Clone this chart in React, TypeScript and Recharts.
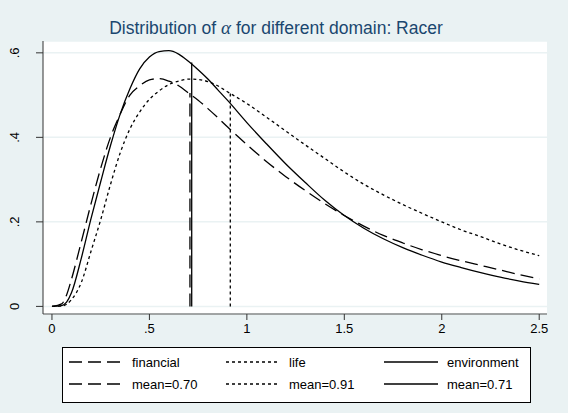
import React from 'react';
import { LineChart, Line, XAxis, YAxis, CartesianGrid, ReferenceLine } from 'recharts';

// alpha grid and density readings
const alphas = [
  0, 0.05, 0.075, 0.1, 0.15, 0.2, 0.25, 0.3, 0.35, 0.4, 0.45, 0.5, 0.55, 0.6, 0.65, 0.7, 0.75, 0.8, 0.85, 0.9,
  1.0, 1.1, 1.2, 1.3, 1.4, 1.5, 1.6, 1.7, 1.8, 1.9, 2.0, 2.1, 2.2, 2.3, 2.4, 2.5,
];
const financial = [
  0, 0.006, 0.027, 0.064, 0.152, 0.242, 0.327, 0.4, 0.455, 0.5, 0.522, 0.536, 0.539, 0.533, 0.522, 0.505, 0.488, 0.468, 0.447, 0.425,
  0.383, 0.343, 0.307, 0.274, 0.243, 0.215, 0.19, 0.168, 0.15, 0.134, 0.12, 0.108, 0.097, 0.086, 0.075, 0.065,
];
const life = [
  0, 0.001, 0.005, 0.016, 0.056, 0.13, 0.205, 0.288, 0.363, 0.42, 0.46, 0.49, 0.51, 0.525, 0.533, 0.538, 0.537, 0.532, 0.522, 0.508,
  0.48, 0.448, 0.415, 0.382, 0.35, 0.318, 0.289, 0.264, 0.241, 0.22, 0.2, 0.181, 0.165, 0.148, 0.133, 0.12,
];
const environment = [
  0, 0.002, 0.01, 0.032, 0.113, 0.207, 0.295, 0.38, 0.455, 0.515, 0.562, 0.59, 0.603, 0.605, 0.597, 0.58, 0.56, 0.538, 0.513, 0.488,
  0.435, 0.385, 0.337, 0.293, 0.251, 0.215, 0.185, 0.16, 0.139, 0.121, 0.105, 0.092, 0.08, 0.069, 0.06, 0.052,
];

// mean markers: drawn position and height of each vertical line
const meanNames = ['financial', 'life', 'environment'];
const meanPositions = [0.708, 0.915, 0.717];
const meanHeights = [0.505, 0.504, 0.577];
const meanLabels = ['mean=0.70', 'mean=0.91', 'mean=0.71'];

const xTicks = [0, 0.5, 1, 1.5, 2, 2.5];
const xTickLabels = ['0', '.5', '1', '1.5', '2', '2.5'];
const yTicks = [0, 0.2, 0.4, 0.6];
const yTickLabels = ['0', '.2', '.4', '.6'];

const dashes: Record<string, string | undefined> = {
  financial: '13 6',
  life: '3 3',
  environment: undefined,
};

const rows = alphas.map((a, i) => ({
  x: a,
  financial: financial[i],
  life: life[i],
  environment: environment[i],
}));

const FONT = '"Liberation Sans", Arial, Helvetica, sans-serif';
const BG = '#EAF2F3';

const YTick = (props: any) => {
  const { x, y, payload } = props;
  const idx = yTicks.indexOf(payload.value);
  return (
    <text
      x={x - 15}
      y={y}
      transform={`rotate(-90, ${x - 15}, ${y})`}
      textAnchor="middle"
      fontSize={13}
      fontFamily={FONT}
      fill="#000"
    >
      {idx >= 0 ? yTickLabels[idx] : payload.value}
    </text>
  );
};

const LegendSwatch = ({ dash }: { dash?: string }) => (
  <svg width={54} height={10} style={{ display: 'block' }}>
    <line x1={0} y1={5} x2={54} y2={5} stroke="#000" strokeWidth={1.3} strokeDasharray={dash} />
  </svg>
);

const legendCols = [6, 163, 321];

export default function App() {
  return (
    <div style={{ position: 'absolute', left: 0, top: 0, width: 568, height: 413, background: BG, fontFamily: FONT }}>
      <div
        style={{
          position: 'absolute',
          left: 0,
          width: 552,
          top: 17,
          textAlign: 'center',
          fontSize: 17.5,
          color: '#1a476f',
          lineHeight: '22px',
        }}
      >
        Distribution of{' '}
        <span style={{ fontFamily: '"Liberation Serif", "DejaVu Serif", serif', fontStyle: 'italic', fontSize: 19 }}>α</span>{' '}
        for different domain: Racer
      </div>
      <LineChart
        width={568}
        height={413}
        data={rows}
        margin={{ top: 41, right: 21, left: 0, bottom: 69 }}
        style={{ position: 'absolute', left: 0, top: 0 }}
      >
        <CartesianGrid horizontal vertical={false} fill="#ffffff" stroke={BG} strokeWidth={1.5} />
        <XAxis
          dataKey="x"
          type="number"
          domain={[-0.046, 2.54]}
          ticks={xTicks}
          allowDataOverflow
          tickFormatter={(v: number) => xTickLabels[xTicks.indexOf(v)] ?? String(v)}
          tick={{ fontSize: 13, fill: '#000', fontFamily: FONT }}
          tickSize={6}
          tickMargin={4}
          height={30}
          axisLine={{ stroke: '#555' }}
          tickLine={{ stroke: '#333' }}
        />
        <YAxis
          type="number"
          domain={[-0.018, 0.628]}
          ticks={yTicks}
          allowDataOverflow
          width={43}
          tick={<YTick />}
          tickSize={7}
          axisLine={{ stroke: '#333' }}
          tickLine={{ stroke: '#333' }}
        />
        {meanNames.map((n, i) => (
          <ReferenceLine
            key={n}
            segment={[
              { x: meanPositions[i], y: 0 },
              { x: meanPositions[i], y: meanHeights[i] },
            ]}
            stroke="#000"
            strokeWidth={1.3}
            strokeDasharray={dashes[n]}
            ifOverflow="visible"
          />
        ))}
        {meanNames.map((n) => (
          <Line
            key={n}
            dataKey={n}
            type="monotone"
            stroke="#000"
            strokeWidth={1.3}
            strokeDasharray={dashes[n]}
            dot={false}
            activeDot={false}
            isAnimationActive={false}
          />
        ))}
      </LineChart>
      <div
        style={{
          position: 'absolute',
          left: 62,
          top: 347,
          width: 469,
          height: 56,
          border: '1px solid #000',
          background: '#fff',
          boxSizing: 'border-box',
          fontSize: 13,
        }}
      >
        {meanNames.map((n, i) =>
          [n, meanLabels[i]].map((label, r) => (
            <div
              key={n + r}
              style={{
                position: 'absolute',
                left: legendCols[i],
                top: 6 + r * 22,
                display: 'flex',
                alignItems: 'center',
                height: 16,
              }}
            >
              <LegendSwatch dash={dashes[n]} />
              <span style={{ marginLeft: 9 }}>{label}</span>
            </div>
          )),
        )}
      </div>
    </div>
  );
}
